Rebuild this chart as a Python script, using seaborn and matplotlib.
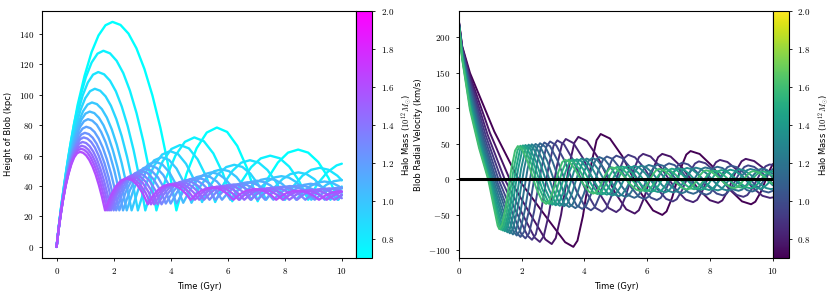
import matplotlib
matplotlib.use("Agg")
import pandas as pd
import matplotlib.pyplot as plt
import seaborn as sns
from matplotlib.colors import Normalize
from matplotlib.cm import ScalarMappable
from matplotlib.ticker import FuncFormatter, MultipleLocator

# halo masses of the runs, in 1e12 Msun
halo_mass = [0.70, 0.77, 0.84, 0.91, 0.98, 1.05, 1.12, 1.18, 1.25, 1.32, 1.39, 1.46, 1.53, 1.60]

# blob height (kpc) against time (Gyr), one list per run
height_time = [
    [0, 0.098, 0.196, 0.343, 0.49, 0.735, 0.98, 1.225, 1.47, 1.715, 1.96, 2.24, 2.52, 2.80, 3.08, 3.36,
     3.64, 3.92, 4.20, 4.555, 4.91, 5.265, 5.62, 5.98, 6.335, 6.69, 7.05, 7.405, 7.76, 8.115, 8.47,
     8.82, 9.175, 9.53, 9.88, 10],
    [0, 0.082, 0.164, 0.287, 0.41, 0.615, 0.82, 1.025, 1.23, 1.435, 1.64, 1.873, 2.105, 2.338, 2.57,
     2.803, 3.035, 3.268, 3.50, 3.833, 4.165, 4.498, 4.83, 5.163, 5.495, 5.828, 6.16, 6.493, 6.825,
     7.158, 7.49, 7.823, 8.155, 8.488, 8.82, 9.153, 9.485, 9.818, 10],
    [0, 0.073, 0.146, 0.256, 0.365, 0.548, 0.73, 0.913, 1.095, 1.278, 1.46, 1.666, 1.873, 2.079, 2.285,
     2.491, 2.698, 2.904, 3.11, 3.415, 3.72, 4.025, 4.33, 4.638, 4.945, 5.253, 5.56, 5.865, 6.17, 6.475,
     6.78, 7.088, 7.395, 7.703, 8.01, 8.315, 8.62, 8.925, 9.23, 9.538, 9.845, 10],
    [0, 0.067, 0.134, 0.235, 0.335, 0.503, 0.67, 0.838, 1.005, 1.173, 1.34, 1.529, 1.718, 1.906, 2.095,
     2.284, 2.473, 2.662, 2.85, 3.133, 3.415, 3.698, 3.98, 4.26, 4.54, 4.82, 5.10, 5.383, 5.665, 5.948,
     6.23, 6.51, 6.79, 7.07, 7.35, 7.633, 7.915, 8.198, 8.48, 8.76, 9.04, 9.32, 9.60, 9.80, 10],
    [0, 0.062, 0.124, 0.217, 0.31, 0.465, 0.62, 0.775, 0.93, 1.085, 1.24, 1.414, 1.588, 1.761, 1.935,
     2.109, 2.283, 2.456, 2.63, 2.893, 3.155, 3.418, 3.68, 3.943, 4.205, 4.468, 4.73, 4.993, 5.255, 5.518,
     5.78, 6.043, 6.305, 6.568, 6.83, 7.093, 7.355, 7.618, 7.88, 8.143, 8.405, 8.668, 8.93, 9.193, 9.455,
     9.718, 10],
    [0, 0.058, 0.116, 0.203, 0.29, 0.435, 0.58, 0.725, 0.87, 1.015, 1.16, 1.3225, 1.485, 1.6475, 1.81,
     1.9725, 2.135, 2.2975, 2.46, 2.708, 2.955, 3.203, 3.45, 3.698, 3.945, 4.193, 4.44, 4.688, 4.935,
     5.183, 5.43, 5.678, 5.925, 6.173, 6.42, 6.668, 6.915, 7.163, 7.41, 7.658, 7.905, 8.153, 8.40, 8.648,
     8.895, 9.143, 9.39, 9.638, 9.885, 10],
    [0, 0.055, 0.11, 0.193, 0.275, 0.413, 0.55, 0.688, 0.825, 0.963, 1.10, 1.254, 1.408, 1.561, 1.715,
     1.869, 2.023, 2.176, 2.33, 2.565, 2.80, 3.035, 3.27, 3.505, 3.74, 3.975, 4.21, 4.445, 4.68, 4.915,
     5.15, 5.385, 5.62, 5.855, 6.09, 6.325, 6.56, 6.795, 7.03, 7.265, 7.50, 7.735, 7.97, 8.205, 8.44,
     8.675, 8.91, 9.145, 9.38, 9.615, 9.85, 10],
    [0, 0.052, 0.104, 0.182, 0.26, 0.39, 0.52, 0.65, 0.78, 0.91, 1.04, 1.185, 1.33, 1.475, 1.62, 1.765,
     1.91, 2.055, 2.20, 2.425, 2.65, 2.875, 3.10, 3.325, 3.55, 3.775, 4.00, 4.225, 4.45, 4.675, 4.90,
     5.125, 5.35, 5.575, 5.80, 6.025, 6.25, 6.475, 6.70, 6.925, 7.15, 7.375, 7.60, 7.825, 8.05, 8.275,
     8.50, 8.725, 8.95, 9.175, 9.40, 9.625, 9.85, 10],
    [0, 0.05, 0.099, 0.173, 0.248, 0.371, 0.495, 0.619, 0.743, 0.866, 0.99, 1.128, 1.265, 1.403, 1.54,
     1.678, 1.815, 1.953, 2.09, 2.308, 2.525, 2.743, 2.96, 3.178, 3.395, 3.613, 3.83, 4.048, 4.265, 4.483,
     4.70, 4.918, 5.135, 5.353, 5.57, 5.788, 6.005, 6.223, 6.44, 6.658, 6.875, 7.093, 7.31, 7.528, 7.745,
     7.963, 8.18, 8.398, 8.615, 8.833, 9.05, 9.268, 9.485, 9.703, 9.92, 10],
    [0, 0.048, 0.095, 0.166, 0.238, 0.356, 0.475, 0.594, 0.713, 0.831, 0.95, 1.081, 1.213, 1.344, 1.475,
     1.606, 1.738, 1.869, 2.00, 2.21, 2.42, 2.63, 2.84, 3.05, 3.26, 3.47, 3.68, 3.89, 4.10, 4.31, 4.52,
     4.73, 4.94, 5.15, 5.36, 5.57, 5.78, 5.99, 6.20, 6.41, 6.62, 6.83, 7.04, 7.25, 7.46, 7.67, 7.88, 8.09,
     8.30, 8.51, 8.72, 8.93, 9.14, 9.35, 9.56, 9.77, 10],
    [0, 0.046, 0.091, 0.159, 0.228, 0.341, 0.455, 0.569, 0.683, 0.796, 0.91, 1.035, 1.16, 1.285, 1.41,
     1.535, 1.66, 1.785, 1.91, 2.115, 2.32, 2.525, 2.73, 2.933, 3.135, 3.338, 3.54, 3.745, 3.95, 4.155,
     4.36, 4.563, 4.765, 4.968, 5.17, 5.375, 5.58, 5.785, 5.99, 6.193, 6.395, 6.598, 6.80, 7.005, 7.21,
     7.415, 7.62, 7.823, 8.025, 8.228, 8.43, 8.635, 8.84, 9.045, 9.25, 9.453, 9.655, 9.858, 10],
    [0, 0.044, 0.088, 0.154, 0.22, 0.33, 0.44, 0.55, 0.66, 0.77, 0.88, 1.00, 1.12, 1.24, 1.36, 1.48, 1.60,
     1.72, 1.84, 2.038, 2.235, 2.433, 2.63, 2.828, 3.025, 3.223, 3.42, 3.618, 3.815, 4.013, 4.21, 4.408,
     4.605, 4.803, 5.00, 5.198, 5.395, 5.593, 5.79, 5.988, 6.185, 6.383, 6.58, 6.778, 6.975, 7.173, 7.37,
     7.568, 7.765, 7.963, 8.16, 8.358, 8.555, 8.753, 8.95, 9.148, 9.345, 9.543, 9.74, 10],
    [0, 0.043, 0.085, 0.149, 0.213, 0.319, 0.425, 0.531, 0.638, 0.744, 0.85, 0.965, 1.08, 1.195, 1.31,
     1.425, 1.54, 1.655, 1.77, 1.963, 2.155, 2.348, 2.54, 2.733, 2.925, 3.118, 3.31, 3.503, 3.695, 3.888,
     4.08, 4.273, 4.465, 4.658, 4.85, 5.043, 5.235, 5.428, 5.62, 5.813, 6.005, 6.198, 6.39, 6.583, 6.775,
     6.968, 7.16, 7.353, 7.545, 7.738, 7.93, 8.123, 8.315, 8.508, 8.70, 8.893, 9.085, 9.278, 9.47, 9.663,
     9.855, 10],
    [0, 0.041, 0.082, 0.144, 0.205, 0.308, 0.41, 0.513, 0.615, 0.718, 0.82, 0.93, 1.04, 1.15, 1.26, 1.37,
     1.48, 1.59, 1.70, 1.888, 2.075, 2.263, 2.45, 2.638, 2.825, 3.013, 3.20, 3.388, 3.575, 3.763, 3.95,
     4.138, 4.325, 4.513, 4.70, 4.888, 5.075, 5.263, 5.45, 5.638, 5.825, 6.013, 6.20, 6.388, 6.575, 6.763,
     6.95, 7.138, 7.325, 7.513, 7.70, 7.888, 8.075, 8.263, 8.45, 8.638, 8.825, 9.013, 9.20, 9.388, 9.575,
     9.763, 9.95, 10],
]
height_kpc = [
    [0, 16.3, 31.1, 50.3, 68.1, 93.2, 112.5, 128.0, 139.1, 145.8, 148, 146, 140.3, 130.6, 117, 99.6,
     78.3, 53, 24, 48.0, 64.9, 75.2, 78.5, 75.6, 66.4, 51.3, 30, 45, 55.5, 62, 64,
     62, 55.8, 45.5, 31, 34.6],
    [0, 14.2, 27.1, 43.9, 59.3, 81.3, 98.0, 111.6, 121.3, 127.1, 129, 127.3, 122.4, 114.3, 102.8,
     88, 69.9, 48.6, 24, 45.1, 60, 69.1, 72, 69.5, 61.5, 48.5, 30, 43.2, 52.5,
     58.2, 60, 58.3, 52.8, 43.8, 31, 41.6, 49, 53.6, 54.7],
    [0, 12.7, 24.2, 39.1, 52.9, 72.5, 87.4, 99.5, 108.1, 113.3, 115, 113.5, 109.3, 102.3, 92.3,
     79.5, 63.8, 45.3, 24, 42.9, 56.3, 64.4, 67, 64.8, 57.6, 46, 29.5, 41.6, 50.1, 55.4,
     57, 55.4, 50.5, 42.4, 31, 40.2, 46.8, 50.7, 52, 50.7, 46.8, 43.8],
    [0, 11.4, 21.8, 35.4, 47.8, 65.5, 79.0, 90.0, 97.8, 102.4, 104, 102.7, 99, 92.8, 84,
     72.8, 59, 42.7, 24, 41.2, 53.3, 60.7, 63, 61, 54.6, 44.2, 29.5, 40.3, 47.9, 52.5,
     54, 52.6, 48.3, 41.1, 31, 38.9, 44.5, 47.9, 49, 47.9, 44.5, 38.9, 31, 35.8, 39.7],
    [0, 10.5, 20, 32.3, 43.7, 59.9, 72.2, 82.2, 89.3, 93.6, 95, 93.9, 90.6, 85.1, 77.3,
     67.3, 55.1, 40.6, 24, 39.4, 50.3, 56.9, 59, 57.2, 51.5, 42.2, 29, 38.7, 45.5, 49.7,
     51, 49.8, 46, 39.8, 31, 37.8, 42.6, 45.6, 46.5, 45.6, 42.6, 37.8, 31, 36.7, 40.8,
     43.2, 44],
    [0, 9.8, 18.7, 30.3, 40.9, 56.1, 67.6, 77, 83.7, 87.7, 89, 88, 84.9, 79.9, 72.8,
     63.6, 52.4, 39.2, 24, 38.1, 48, 54.1, 56, 54.4, 49.3, 40.9, 29, 37.8, 44,
     47.8, 49, 47.9, 44.5, 38.9, 31, 37.1, 41.5, 44.1, 45, 44.1, 41.5, 37.1, 31, 36.3,
     40, 42.3, 43, 42.3, 40, 38.4],
    [0, 9.2, 17.6, 28.6, 38.6, 52.9, 63.8, 72.7, 79, 82.7, 84, 83, 80.3, 75.6, 69,
     60.6, 50.3, 38, 24, 37, 46.1, 51.7, 53.5, 52, 47.3, 39.5, 28.5, 36.6, 42.4, 45.9,
     47, 46, 43, 38, 31, 36.5, 40.4, 42.7, 43.5, 42.7, 40.4, 36.5, 31, 35.6, 38.9,
     40.8, 41.5, 40.8, 38.9, 35.6, 31, 33.8],
    [0, 8.7, 16.6, 26.9, 36.3, 49.8, 60, 68.3, 74.3, 77.8, 79, 78.1, 75.6, 71.3, 65.3, 57.5,
     48.1, 36.9, 24, 36.1, 44.6, 49.9, 51.5, 50.1, 45.8, 38.6, 28.5, 36, 41.3, 44.5, 45.5,
     44.6, 41.9, 37.3, 31, 36, 39.6, 41.8, 42.5, 41.8, 39.6, 36, 31, 35.2, 38.1, 39.9,
     40.5, 39.9, 38.1, 35.2, 31, 34.7, 37.4, 38.6],
    [0, 8.3, 15.8, 25.5, 34.5, 47.3, 57, 64.9, 70.5, 73.9, 75, 74.2, 71.8, 67.9, 62.3,
     55.1, 46.3, 35.9, 24, 35.4, 43.5, 48.4, 50, 48.7, 44.6, 38, 28.5, 35.5, 40.5, 43.5,
     44.5, 43.7, 41.1, 36.9, 31, 35.6, 38.9, 40.8, 41.5, 40.8, 38.9, 35.6, 31, 34.9, 37.8,
     39.4, 40, 39.4, 37.8, 34.9, 31, 34.5, 37, 38.5, 39, 39],
    [0, 7.9, 15.1, 24.5, 33.1, 45.4, 54.7, 62.3, 67.7, 70.9, 72, 71.2, 69, 65.3, 60,
     53.3, 45, 35.2, 24, 34.8, 42.4, 47, 48.5, 47.3, 43.4, 37, 28, 34.8, 39.6, 42.6, 43.5,
     42.7, 40.4, 36.5, 31, 35.4, 38.5, 40.4, 41, 40.4, 38.5, 35.4, 31, 34.7, 37.4, 39, 39.5, 39,
     37.4, 34.7, 31, 34.3, 36.6, 38, 38.5, 38, 36.4],
    [0, 7.6, 14.5, 23.5, 31.7, 43.5, 52.4, 59.7, 64.9, 68, 69, 68.3, 66.2, 62.7, 57.8,
     51.4, 43.7, 34.5, 24, 34.3, 41.6, 46.1, 47.5, 46.3, 42.6, 36.6, 28, 34.3, 38.9, 41.6,
     42.5, 41.8, 39.6, 36, 31, 35.2, 38.1, 39.9, 40.5, 39.9, 38.1, 35.2, 31, 34.5, 37,
     38.5, 39, 38.5, 37, 34.5, 31, 34.1, 36.3, 37.6, 38, 37.6, 36.3, 34.1, 32],
    [0, 7.3, 14, 22.6, 30.6, 41.9, 50.5, 57.5, 62.5, 65.5, 66.5, 65.8, 63.8, 60.5, 55.9, 49.9, 42.6,
     33.9, 24, 33.9, 40.9, 45.2, 46.5, 45.4, 41.9, 36.1, 28, 34.1, 38.5, 41.1, 42, 41.3,
     39.3, 35.8, 31, 34.9, 37.8, 39.4, 40, 39.4, 37.8, 34.9, 31, 34.3, 36.6, 38, 38.5,
     38, 36.6, 34.3, 31, 33.8, 35.9, 37.1, 37.5, 37.1, 35.9, 33.8, 31, 34.3],
    [0, 7.1, 13.5, 21.9, 29.7, 40.6, 49, 55.8, 60.6, 63.5, 64.5, 63.9, 62, 58.8, 54.4,
     48.7, 41.7, 33.5, 24, 33.5, 40.1, 44.2, 45.5, 44.5, 41.1, 35.7, 28, 33.9, 38.1, 40.7,
     41.5, 40.8, 38.9, 35.6, 31, 34.7, 37.4, 39, 39.5, 39, 37.4, 34.7, 31, 34.1, 36.3,
     37.6, 38, 37.6, 36.3, 34.1, 31, 33.6, 35.5, 36.6, 37, 36.6, 35.5, 33.6, 31, 33.4,
     35.1, 36],
    [0, 6.9, 13.1, 21.3, 28.8, 39.4, 47.5, 54.1, 58.8, 61.6, 62.5, 61.9, 60.1, 57.1, 52.9, 47.5,
     40.8, 33, 24, 33.2, 39.8, 43.7, 45, 44, 40.8, 35.5, 28, 33.7, 37.8, 40.2, 41,
     40.4, 38.5, 35.4, 31, 34.5, 37, 38.5, 39, 38.5, 37, 34.5, 31, 34.1, 36.3, 37.6,
     38, 37.6, 36.3, 34.1, 31, 33.6, 35.5, 36.6, 37, 36.6, 35.5, 33.6, 31, 33.4, 35.1,
     36.2, 36.5, 36.5],
]

# blob radial velocity (km/s) against time (Gyr), one list per run
vel_time = [
    [0, 0.1, 0.35, 1.125, 1.9, 2.77, 3.383, 3.645, 3.776, 3.95, 4.08, 4.211, 4.385, 4.515, 4.81, 5.203,
     5.498, 5.792, 6.185, 6.48, 6.615, 6.795, 6.93, 7.065, 7.245, 7.38, 7.67, 8.056, 8.345, 8.635, 9.021,
     9.31, 9.445, 9.625, 9.76, 9.895, 10],
    [0, 0.1, 0.35, 0.985, 1.62, 2.288, 2.756, 2.956, 3.083, 3.253, 3.38, 3.507, 3.677, 3.804, 4.074,
     4.433, 4.703, 4.973, 5.332, 5.602, 5.733, 5.909, 6.04, 6.171, 6.347, 6.478, 6.746, 7.102, 7.37,
     7.638, 7.994, 8.262, 8.393, 8.569, 8.70, 8.831, 9.007, 9.138, 9.408, 9.768, 10],
    [0, 0.1, 0.35, 0.905, 1.46, 2.019, 2.409, 2.577, 2.701, 2.866, 2.99, 3.114, 3.279, 3.403, 3.645,
     3.967, 4.208, 4.45, 4.772, 5.013, 5.141, 5.312, 5.44, 5.568, 5.739, 5.867, 6.106, 6.426, 6.665,
     6.904, 7.224, 7.463, 7.591, 7.762, 7.89, 8.018, 8.189, 8.317, 8.556, 8.876, 9.115, 9.354, 9.674,
     9.913, 10],
    [0, 0.1, 0.35, 0.85, 1.35, 1.839, 2.18, 2.327, 2.448, 2.609, 2.73, 2.851, 3.012, 3.133, 3.348, 3.634,
     3.849, 4.064, 4.35, 4.565, 4.69, 4.855, 4.98, 5.105, 5.27, 5.395, 5.608, 5.892, 6.105, 6.318, 6.602,
     6.815, 6.94, 7.105, 7.23, 7.355, 7.52, 7.645, 7.858, 8.142, 8.355, 8.568, 8.852, 9.065, 9.19, 9.355,
     9.48, 9.605, 9.77, 9.895, 10],
    [0, 0.1, 0.35, 0.805, 1.26, 1.689, 1.989, 2.118, 2.236, 2.392, 2.51, 2.628, 2.784, 2.902, 3.098,
     3.358, 3.554, 3.75, 4.01, 4.206, 4.327, 4.489, 4.61, 4.731, 4.893, 5.014, 5.208, 5.466, 5.66, 5.854,
     6.112, 6.306, 6.427, 6.589, 6.71, 6.831, 6.993, 7.114, 7.308, 7.566, 7.76, 7.954, 8.212, 8.406,
     8.527, 8.689, 8.81, 8.931, 9.093, 9.214, 9.408, 9.666, 9.86, 10],
    [0, 0.1, 0.35, 0.77, 1.19, 1.575, 1.844, 1.959, 2.073, 2.226, 2.34, 2.454, 2.607, 2.721, 2.902,
     3.143, 3.325, 3.506, 3.747, 3.928, 4.046, 4.202, 4.32, 4.438, 4.594, 4.712, 4.891, 5.131, 5.31,
     5.489, 5.729, 5.908, 6.026, 6.182, 6.30, 6.418, 6.574, 6.692, 6.871, 7.111, 7.29, 7.469, 7.709,
     7.888, 8.006, 8.162, 8.28, 8.398, 8.554, 8.672, 8.851, 9.091, 9.27, 9.449, 9.689, 9.868, 10],
    [0, 0.1, 0.35, 0.745, 1.14, 1.49, 1.735, 1.84, 1.951, 2.099, 2.21, 2.321, 2.469, 2.58, 2.749, 2.975,
     3.145, 3.314, 3.54, 3.709, 3.823, 3.976, 4.09, 4.204, 4.357, 4.471, 4.639, 4.862, 5.03, 5.198,
     5.421, 5.589, 5.703, 5.856, 5.97, 6.084, 6.237, 6.351, 6.519, 6.742, 6.91, 7.078, 7.301, 7.469,
     7.583, 7.736, 7.85, 7.964, 8.117, 8.231, 8.399, 8.622, 8.79, 8.958, 9.181, 9.349, 9.463, 9.616,
     9.73, 9.844, 10],
    [0, 0.1, 0.35, 0.72, 1.09, 1.405, 1.625, 1.72, 1.828, 1.972, 2.08, 2.188, 2.332, 2.44, 2.601, 2.815,
     2.976, 3.136, 3.35, 3.511, 3.622, 3.769, 3.88, 3.991, 4.138, 4.249, 4.408, 4.621, 4.78, 4.939, 5.152,
     5.311, 5.422, 5.569, 5.68, 5.791, 5.938, 6.049, 6.208, 6.421, 6.58, 6.739, 6.952, 7.111, 7.222,
     7.369, 7.48, 7.591, 7.738, 7.849, 8.008, 8.221, 8.38, 8.539, 8.752, 8.911, 9.022, 9.169, 9.28,
     9.391, 9.538, 9.649, 9.808, 10],
    [0, 0.1, 0.35, 0.70, 1.05, 1.336, 1.535, 1.621, 1.726, 1.865, 1.97, 2.075, 2.214, 2.319, 2.474,
     2.681, 2.836, 2.99, 3.197, 3.352, 3.459, 3.603, 3.71, 3.817, 3.961, 4.068, 4.222, 4.426, 4.58,
     4.734, 4.938, 5.092, 5.199, 5.343, 5.45, 5.557, 5.701, 5.808, 5.962, 6.166, 6.32, 6.474, 6.678,
     6.832, 6.939, 7.083, 7.19, 7.297, 7.441, 7.548, 7.702, 7.906, 8.06, 8.214, 8.418, 8.572, 8.679,
     8.823, 8.93, 9.037, 9.181, 9.288, 9.441, 9.645, 9.798, 10],
    [0, 0.1, 0.35, 0.685, 1.02, 1.281, 1.464, 1.542, 1.643, 1.779, 1.88, 1.981, 2.117, 2.218, 2.367,
     2.567, 2.716, 2.865, 3.065, 3.214, 3.318, 3.456, 3.56, 3.664, 3.802, 3.906, 4.054, 4.252, 4.4,
     4.548, 4.746, 4.894, 4.998, 5.136, 5.24, 5.344, 5.482, 5.586, 5.734, 5.932, 6.08, 6.228, 6.426,
     6.574, 6.678, 6.816, 6.92, 7.024, 7.162, 7.266, 7.414, 7.612, 7.76, 7.908, 8.106, 8.254, 8.358,
     8.496, 8.60, 8.704, 8.842, 8.946, 9.094, 9.292, 9.44, 9.588, 9.786, 9.934, 10],
    [0, 0.1, 0.35, 0.67, 0.99, 1.227, 1.392, 1.463, 1.561, 1.692, 1.79, 1.888, 2.019, 2.117, 2.262,
     2.456, 2.601, 2.746, 2.94, 3.085, 3.186, 3.32, 3.42, 3.521, 3.655, 3.755, 3.899, 4.091, 4.235,
     4.379, 4.571, 4.715, 4.816, 4.95, 5.05, 5.151, 5.285, 5.385, 5.529, 5.721, 5.865, 6.009, 6.201,
     6.345, 6.446, 6.58, 6.68, 6.781, 6.915, 7.015, 7.159, 7.351, 7.495, 7.639, 7.831, 7.975, 8.076,
     8.21, 8.31, 8.411, 8.545, 8.645, 8.789, 8.981, 9.125, 9.269, 9.461, 9.605, 9.706, 9.84, 9.94, 10],
    [0, 0.1, 0.35, 0.66, 0.97, 1.187, 1.338, 1.403, 1.498, 1.625, 1.72, 1.815, 1.942, 2.037, 2.178,
     2.366, 2.507, 2.648, 2.836, 2.977, 3.074, 3.203, 3.30, 3.397, 3.526, 3.623, 3.763, 3.95, 4.09, 4.23,
     4.417, 4.557, 4.654, 4.783, 4.88, 4.977, 5.106, 5.203, 5.343, 5.53, 5.67, 5.81, 5.997, 6.137, 6.234,
     6.363, 6.46, 6.557, 6.686, 6.783, 6.923, 7.11, 7.25, 7.39, 7.577, 7.717, 7.814, 7.943, 8.04, 8.137,
     8.266, 8.363, 8.503, 8.69, 8.83, 8.97, 9.157, 9.297, 9.394, 9.523, 9.62, 9.717, 9.846, 9.943, 10],
    [0, 0.1, 0.35, 0.65, 0.95, 1.147, 1.285, 1.344, 1.436, 1.558, 1.65, 1.742, 1.864, 1.956, 2.094,
     2.279, 2.417, 2.555, 2.74, 2.878, 2.972, 3.096, 3.19, 3.284, 3.408, 3.502, 3.639, 3.823, 3.96,
     4.097, 4.281, 4.418, 4.512, 4.636, 4.73, 4.824, 4.948, 5.042, 5.179, 5.363, 5.5, 5.637, 5.821,
     5.958, 6.052, 6.176, 6.27, 6.364, 6.488, 6.582, 6.719, 6.903, 7.04, 7.177, 7.361, 7.498, 7.592,
     7.716, 7.81, 7.904, 8.028, 8.122, 8.259, 8.443, 8.58, 8.717, 8.901, 9.038, 9.132, 9.256, 9.35,
     9.444, 9.568, 9.662, 9.80, 10],
    [0, 0.1, 0.35, 0.64, 0.93, 1.108, 1.232, 1.285, 1.374, 1.492, 1.58, 1.669, 1.787, 1.875, 2.011,
     2.192, 2.328, 2.463, 2.644, 2.78, 2.87, 2.99, 3.08, 3.17, 3.29, 3.38, 3.515, 3.695, 3.83, 3.965,
     4.145, 4.28, 4.37, 4.49, 4.58, 4.67, 4.79, 4.88, 5.015, 5.195, 5.33, 5.465, 5.645, 5.78, 5.87, 5.99,
     6.08, 6.17, 6.29, 6.38, 6.515, 6.695, 6.83, 6.965, 7.145, 7.28, 7.37, 7.49, 7.58, 7.67, 7.79, 7.88,
     8.015, 8.195, 8.33, 8.465, 8.645, 8.78, 8.87, 8.99, 9.08, 9.17, 9.29, 9.38, 9.515, 9.695, 9.83,
     9.965, 10],
]
vel_kms = [
    [222, 188, 150, 67.5, 0, -52.3, -88.4, -95, -86.3, -51.6, -15.5, 20.6, 55.3, 64, 57.7, 32.9,
     7, -18.9, -43.7, -50, -45.1, -25.4, -5, 15.4, 35, 40, 35.9, 19.5, 2.5, -14.5, -30.9,
     -35, -31.4, -17.3, -2.5, 12.3, 21.6],
    [221.5, 186.6, 146, 65.7, 0, -50, -84.6, -91, -82.7, -49.8, -15.5, 18.8, 51.7, 60, 54.1,
     30.5, 6, -18.5, -42.1, -48, -43.4, -25.1, -6, 13.1, 31.4, 36, 32.2, 17.2, 1.5,
     -14.2, -29.2, -33, -29.6, -16.1, -2, 12.1, 25.6, 29, 25.9, 13.7, 2.7],
    [220.9, 185.2, 142, 63.9, 0, -48.4, -81.8, -88, -80, -48.4, -15.5, 17.4, 49, 57, 51.3,
     28.9, 5.5, -17.9, -40.3, -46, -41.5, -23.6, -5, 13.6, 31.5, 36, 32.3, 17.4, 2,
     -13.4, -28.3, -32, -28.7, -15.8, -2.3, 11.3, 24.2, 27.5, 24.6, 12.9, 0.8, -11.4, -23.1,
     -26, -25.3],
    [220.4, 183.8, 138, 62.1, 0, -46.8, -79, -85, -77.3, -46.8, -15, 16.8, 47.3, 55, 49.5, 27.6,
     4.8, -18.1, -40, -45.5, -41.1, -23.6, -5.4, 12.8, 30.3, 34.7, 31.1, 16.8, 1.9, -13.1, -27.4,
     -31, -27.9, -15.6, -2.8, 10.1, 22.4, 25.5, 22.8, 11.9, 0.5, -10.9, -21.8, -24.5, -22, -12.1,
     -1.8, 8.6, 18.5, 21, 20.6],
    [219.8, 182.4, 134, 60.3, 0, -45.7, -77.2, -83, -75.5, -45.7, -14.8, 16.2, 46, 53.5, 48.2,
     27, 5.1, -16.9, -38.1, -43.4, -39.2, -22.4, -5, 12.5, 29.3, 33.5, 30.1, 16.4, 2.3, -11.9,
     -25.6, -29, -26.1, -14.6, -2.7, 9.2, 20.7, 23.6, 21.1, 11, 0.6, -9.8, -19.9, -22.4,
     -20.1, -10.9, -1.3, 8.3, 17.5, 19.8, 17.7, 9.2, 0.4, -6.2],
    [219.3, 181, 130, 58.5, 0, -44.6, -75.3, -81, -73.7, -44.7, -14.5, 15.7, 44.7, 52, 46.9,
     26.5, 5.3, -16, -36.4, -41.5, -37.4, -21.4, -4.6, 12.2, 28.2, 32.3, 29, 15.9, 2.4,
     -11.2, -24.3, -27.6, -24.8, -13.9, -2.5, 8.9, 19.8, 22.6, 20.2, 10.6, 0.6, -9.5, -19.1,
     -21.5, -19.3, -10.3, -1.1, 8.2, 17.2, 19.4, 17.3, 9.1, 0.5, -8.1, -16.3, -18.4, -16],
    [218.8, 179.6, 126, 56.7, 0, -43.5, -73.5, -79, -71.9, -43.5, -14, 15.5, 43.9, 51, 46, 26,
     5.3, -15.4, -35.4, -40.4, -36.4, -20.8, -4.5, 11.9, 27.5, 31.5, 28.3, 15.8, 2.8, -10.2,
     -22.7, -25.9, -23.3, -13, -2.3, 8.4, 18.7, 21.3, 19, 10, 0.6, -8.9, -17.9, -20.2,
     -18.1, -9.8, -1.2, 7.5, 15.8, 17.9, 16, 8.4, 0.5, -7.5, -15.1, -17, -15.2, -7.9,
     -0.4, 7.1, 14.5],
    [218.2, 178.2, 122, 54.9, 0, -42.6, -72.1, -77.5, -70.5, -42.7, -13.8, 15.2, 43, 50, 45.1, 25.8,
     5.6, -14.6, -33.9, -38.8, -35, -20, -4.3, 11.4, 26.4, 30.2, 27.2, 15.3, 2.9, -9.6, -21.5,
     -24.5, -22, -12.2, -2.1, 8.1, 17.9, 20.4, 18.2, 9.5, 0.5, -8.5, -17.2, -19.4, -17.4,
     -9.5, -1.3, 7, 14.9, 16.9, 15.1, 7.9, 0.5, -7, -14.2, -16, -14.3, -7.5, -0.5,
     6.6, 13.4, 15.1, 13.5, 8],
    [217.7, 176.8, 118, 53.1, 0, -41.8, -70.7, -76, -69.1, -41.7, -13.3, 15.2, 42.6, 49.5, 44.7,
     25.7, 6, -13.8, -32.8, -37.6, -33.9, -19.3, -4.1, 11.1, 25.7, 29.4, 26.5, 14.9, 2.9,
     -9.1, -20.7, -23.6, -21.2, -11.9, -2.2, 7.6, 16.9, 19.3, 17.2, 9, 0.5, -8, -16.2,
     -18.3, -16.4, -8.8, -0.9, 7.1, 14.7, 16.6, 14.8, 7.8, 0.5, -6.9, -13.9, -15.7, -14,
     -7.4, -0.5, 6.4, 13, 14.7, 13.1, 6.9, 0.4, -8.1],
    [217.1, 175.4, 114, 51.3, 0, -41, -69.3, -74.5, -67.7, -40.8, -12.8, 15.3, 42.2, 49, 44.3,
     25.5, 6, -13.6, -32.4, -37.1, -33.4, -18.9, -3.8, 11.3, 25.8, 29.5, 26.6, 15.3, 3.5,
     -8.4, -19.7, -22.6, -20.3, -11.2, -1.8, 7.6, 16.7, 19, 17, 8.9, 0.5, -8, -16.1,
     -18.1, -16.2, -8.7, -1, 6.8, 14.3, 16.2, 14.5, 7.6, 0.4, -6.8, -13.7, -15.4, -13.8,
     -7.3, -0.6, 6.2, 12.7, 14.3, 12.8, 6.7, 0.4, -6, -12.1, -13.6, -13.2],
    [216.6, 174, 110, 49.5, 0, -40.2, -67.9, -73, -66.3, -39.8, -12.3, 15.3, 41.8, 48.5, 43.8,
     25.3, 6.1, -13.2, -31.7, -36.4, -32.8, -18.7, -4, 10.8, 24.9, 28.5, 25.8, 14.9, 3.6,
     -7.8, -18.7, -21.4, -19.2, -10.5, -1.4, 7.8, 16.5, 18.7, 16.7, 8.8, 0.5, -7.8, -15.7,
     -17.7, -15.9, -8.6, -1, 6.6, 13.9, 15.7, 14, 7.3, 0.4, -6.5, -13.2, -14.9, -13.3,
     -7.1, -0.6, 5.9, 12.1, 13.7, 12.2, 6.4, 0.4, -5.7, -11.5, -13, -11.6, -6.2, -0.5, 3],
    [216, 172.6, 106, 47.7, 0, -39.6, -67, -72, -65.4, -39.2, -12, 15.2, 41.4, 48, 43.4,
     25.2, 6.2, -12.8, -31, -35.6, -32.1, -18.1, -3.6, 10.9, 24.9, 28.4, 25.7, 14.9, 3.6, -7.7,
     -18.5, -21.2, -19, -10.4, -1.5, 7.4, 16, 18.2, 16.2, 8.5, 0.5, -7.6, -15.3, -17.3, -15.5,
     -8.4, -1.1, 6.3, 13.4, 15.2, 13.6, 7.1, 0.4, -6.3, -12.8, -14.4, -12.9, -6.9, -0.6, 5.7,
     11.7, 13.2, 11.8, 6.2, 0.4, -5.5, -11.1, -12.5, -11.2, -6.1, -0.7, 4.7, 9.8, 11.1, 11],
    [215.5, 171.2, 102, 45.9, 0, -39.1, -66, -71, -64.5, -38.6, -11.8, 15.1, 41, 47.5, 43,
     25.1, 6.5, -12.1, -30, -34.5, -31.1, -17.4, -3.3, 10.9, 24.6, 28, 25.3, 14.7, 3.7,
     -7.4, -18, -20.7, -18.6, -10.2, -1.5, 7.2, 15.6, 17.7, 15.8, 8.3, 0.5, -7.4, -14.9,
     -16.8, -15.1, -8.3, -1.2, 6, 12.8, 14.5, 12.9, 6.8, 0.4, -6.1, -12.2, -13.8, -12.4,
     -6.6, -0.7, 5.3, 11.1, 12.5, 11.2, 5.9, 0.4, -5.2, -10.5, -11.8, -10.5, -5.5, -0.2,
     5.1, 10.1, 11.4, 10.2, 4.7],
    [215, 169.8, 98, 44.1, 0, -38.5, -65.1, -70, -63.6, -38.1, -11.5, 15.1, 40.6, 47, 42.5,
     24.8, 6.3, -12.3, -30, -34.5, -31.1, -17.5, -3.4, 10.7, 24.3, 27.7, 25.1, 14.7, 3.9, -7,
     -17.4, -20, -18, -9.9, -1.5, 6.9, 15, 17, 15.2, 7.9, 0.4, -7.1, -14.4, -16.2, -14.5, -7.7,
     -0.7, 6.4, 13.2, 14.9, 13.3, 7, 0.4, -6.3, -12.6, -14.2, -12.7, -6.8, -0.7, 5.4, 11.3, 12.8,
     11.4, 6, 0.3, -5.4, -10.8, -12.2, -10.9, -5.7, -0.3, 5.2, 10.4, 11.7, 10.4, 5.4, 0.1,
     -5.2, -6.4],
]


def long_table(times, values):
    rows = []
    for k, (ts, vs) in enumerate(zip(times, values)):
        for t, v in zip(ts, vs):
            rows.append((k, halo_mass[k], t, v))
    return pd.DataFrame(rows, columns=["run", "mass", "time", "value"])


df_height = long_table(height_time, height_kpc)
df_vel = long_table(vel_time, vel_kms)

sns.set_style("ticks")
plt.rcParams.update({
    "font.family": ["DejaVu Sans"],
    "mathtext.fontset": "cm",
    "font.size": 6,
    "axes.labelsize": 6,
    "xtick.labelsize": 6.5,
    "ytick.labelsize": 6.5,
    "axes.linewidth": 0.8,
    "axes.edgecolor": "black",
    "xtick.color": "black",
    "ytick.color": "black",
    "text.color": "black",
    "axes.labelcolor": "black",
    "xtick.major.size": 2.5,
    "ytick.major.size": 2.5,
    "xtick.major.width": 0.6,
    "ytick.major.width": 0.6,
})

norm = Normalize(vmin=0.7, vmax=2.0)
tick_fmt = FuncFormatter(lambda x, pos: f"${x:g}$")
cbar_fmt = FuncFormatter(lambda x, pos: f"${x:.1f}$")
cbar_label = r"Halo Mass ($10^{12}\,M_{\odot}$)"

fig = plt.figure(figsize=(8.3, 2.95), dpi=100)
ax1 = fig.add_axes([0.051, 0.125, 0.378, 0.839])
cax1 = fig.add_axes([0.4295, 0.125, 0.019, 0.839])
ax2 = fig.add_axes([0.553, 0.125, 0.378, 0.839])
cax2 = fig.add_axes([0.9313, 0.125, 0.0193, 0.839])

# left: height of blob
sns.lineplot(data=df_height, x="time", y="value", hue="mass", units="run", estimator=None,
             sort=False, palette="cool", hue_norm=norm, legend=False, linewidth=1.7, ax=ax1)
ax1.set_xlabel("Time (Gyr)")
ax1.set_ylabel("Height of Blob (kpc)")
ax1.xaxis.set_major_locator(MultipleLocator(2))
ax1.yaxis.set_major_locator(MultipleLocator(20))

# right: radial velocity
sns.lineplot(data=df_vel, x="time", y="value", hue="mass", units="run", estimator=None,
             sort=False, palette="viridis", hue_norm=norm, legend=False, linewidth=1.4, ax=ax2)
ax2.axhline(0, color="black", linewidth=2.2, zorder=5)
ax2.set_xlim(0, 10)
ax2.set_xlabel("Time (Gyr)")
ax2.set_ylabel("Blob Radial Velocity (km/s)")
ax2.xaxis.set_major_locator(MultipleLocator(2))
ax2.yaxis.set_major_locator(MultipleLocator(50))

for ax in (ax1, ax2):
    ax.xaxis.set_major_formatter(tick_fmt)
    ax.yaxis.set_major_formatter(tick_fmt)

for cax, cmap in ((cax1, "cool"), (cax2, "viridis")):
    cb = fig.colorbar(ScalarMappable(norm=norm, cmap=cmap), cax=cax)
    cb.set_ticks([0.8, 1.0, 1.2, 1.4, 1.6, 1.8, 2.0])
    cb.ax.yaxis.set_major_formatter(cbar_fmt)
    cb.set_label(cbar_label)
    cb.outline.set_linewidth(0.8)

fig.savefig("out.png", dpi=100)
